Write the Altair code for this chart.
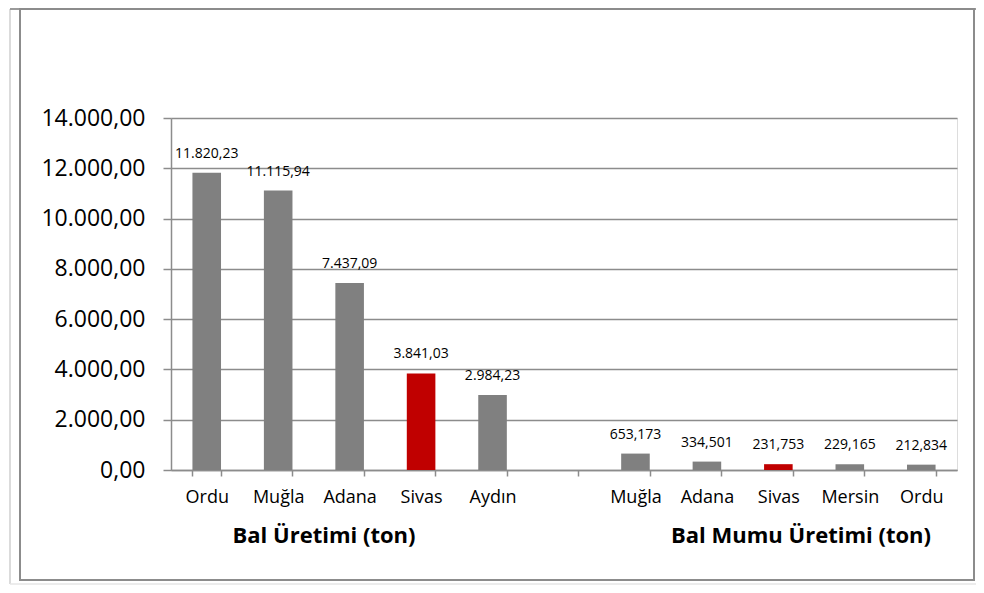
import altair as alt
import pandas as pd

# ---- data ----
bal_cities = ["Ordu", "Muğla", "Adana", "Sivas", "Aydın"]
bal_values = [11820.23, 11115.94, 7437.09, 3841.03, 2984.23]
mum_cities = ["Muğla", "Adana", "Sivas", "Mersin", "Ordu"]
mum_values = [653.173, 334.501, 231.753, 229.165, 212.834]
group_titles = ["Bal Üretimi (ton)", "Bal Mumu Üretimi (ton)"]
y_ticks = [0, 2000, 4000, 6000, 8000, 10000, 12000, 14000]
highlight_city = "Sivas"

bal_keys = [f"{c}|b" for c in bal_cities]
mum_keys = [f"{c}|m" for c in mum_cities]
domain_keys = bal_keys + ["|gap"] + mum_keys

df = pd.DataFrame({
    "key": bal_keys + mum_keys,
    "city": bal_cities + mum_cities,
    "value": bal_values + mum_values,
    "group": ["bal"] * len(bal_cities) + ["mum"] * len(mum_cities),
})

FONT = "Open Sans"
GRID = "#8c8c8c"

x_enc = alt.X(
    "key:N",
    scale=alt.Scale(domain=domain_keys, paddingInner=0.6, paddingOuter=0.3),
    axis=alt.Axis(
        title=None,
        labelExpr="datum.value ? split(datum.value, '|')[0] : ''",
        labelAngle=0,
        tickBand="extent", tickSize=6, tickColor=GRID, tickWidth=1.5,
        domainColor=GRID, domainWidth=1.5, grid=False,
        labelFont=FONT, labelFontSize=18, labelColor="black", labelPadding=12,
    ),
)
y_enc = alt.Y(
    "value:Q",
    scale=alt.Scale(domain=[0, 14000], nice=False),
    axis=alt.Axis(
        title=None, values=y_ticks, format=",.2f",
        grid=True, gridColor=GRID, gridWidth=1.5,
        tickSize=8, tickColor=GRID, tickWidth=1.5,
        domainColor=GRID, domainWidth=1.5,
        labelFont=FONT, labelFontSize=23, labelColor="black", labelPadding=18,
    ),
)

base = alt.Chart(df)

bars = base.mark_bar().encode(
    x=x_enc, y=y_enc,
    color=alt.condition(alt.datum.city == highlight_city,
                        alt.value("#C00000"), alt.value("#808080")),
)

lab_bal = base.transform_filter(alt.datum.group == "bal").mark_text(
    font=FONT, fontSize=14, color="black", baseline="alphabetic", dy=-15
).encode(x=alt.X("key:N"), y=alt.Y("value:Q"), text=alt.Text("value:Q", format=",.2f"))

lab_mum = base.transform_filter(alt.datum.group == "mum").mark_text(
    font=FONT, fontSize=14, color="black", baseline="alphabetic", dy=-15
).encode(x=alt.X("key:N"), y=alt.Y("value:Q"), text=alt.Text("value:Q", format=",.3f"))

one = alt.Chart(pd.DataFrame({"d": [0]}))

title1 = one.mark_text(text=group_titles[0], font=FONT, fontSize=22, fontWeight="bold",
                       color="black", baseline="alphabetic").encode(
    x=alt.value(153), y=alt.value(425))
title2 = one.mark_text(text=group_titles[1], font=FONT, fontSize=22, fontWeight="bold",
                       color="black", baseline="alphabetic").encode(
    x=alt.value(630), y=alt.value(425))

# chart-area frame (Excel style)
outer_left = one.mark_rule(color="#cfcfcf", strokeWidth=1.5).encode(
    x=alt.value(-161), y=alt.value(-109), y2=alt.value(466))
bottom_light = one.mark_rule(color="#e6e6e6", strokeWidth=1.5).encode(
    x=alt.value(-161), x2=alt.value(805), y=alt.value(466))
top_line = one.mark_rule(color="#9a9a9a", strokeWidth=2).encode(
    x=alt.value(-161), x2=alt.value(805), y=alt.value(-109))
frame = one.mark_rect(filled=False, stroke="#8c8c8c", strokeWidth=2).encode(
    x=alt.value(-151), x2=alt.value(803), y=alt.value(-109), y2=alt.value(462))

chart = alt.layer(
    outer_left, bottom_light, top_line, frame,
    bars, lab_bal, lab_mum, title1, title2,
).properties(
    width=786, height=352,
    autosize=alt.AutoSizeParams(type="none"),
    padding={"left": 163, "top": 110, "right": 19, "bottom": 115},
).configure_view(stroke=None).configure(
    locale={"number": {"decimal": ",", "thousands": ".", "grouping": [3], "currency": ["", ""]}}
)

chart.save("out.html", embed_options={"renderer": "svg", "actions": False})
